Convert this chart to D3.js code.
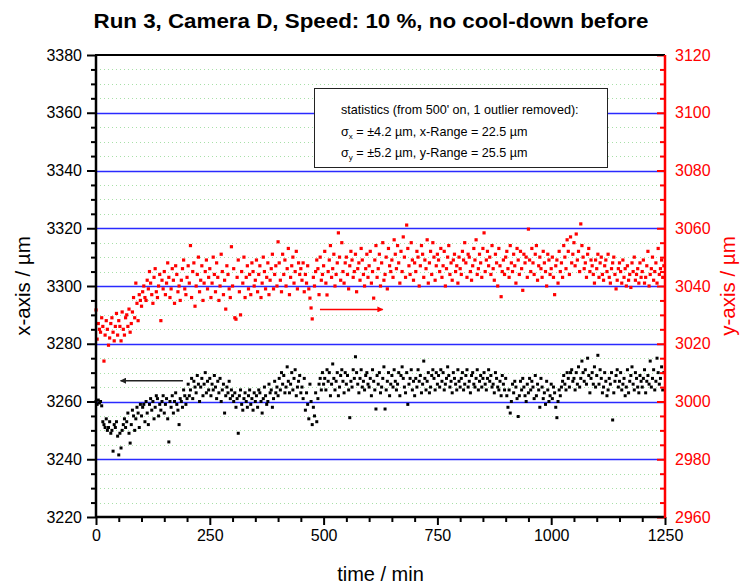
<!DOCTYPE html>
<html>
  <body style="margin:0;background:#fff">
    <style>
      text { font-family: "Liberation Sans", Arial, sans-serif; }
      .domain { display: none; }
    </style>
    <script src="https://cdn.jsdelivr.net/npm/d3@7"></script>
    <script type="text/javascript">

      // sample interval of the camera readout in minutes
      const sampleStep = 2.5;

      // x position (left axis, µm), one row = 50 min
      const xPos = [
        3260, 3259, 3260.5, 3259.5, 3260, 3258.5, 3253, 3252, 3251, 3254, 3250, 3251, 3253, 3249, 3250, 3242.8, 3252, 3251, 3253, 3248,
        3241.5, 3249, 3243.9, 3250, 3252, 3254, 3251, 3253, 3256, 3249, 3245.6, 3252, 3257, 3255, 3250, 3254, 3258, 3256, 3251, 3259,
        3255, 3258, 3259, 3253, 3260, 3256, 3252, 3259, 3261, 3257, 3260, 3254, 3258, 3262, 3261, 3255, 3259, 3257, 3260, 3262,
        3256, 3259, 3261, 3254, 3246, 3260, 3258, 3262, 3256, 3260, 3263, 3259, 3257, 3252, 3261, 3260, 3258, 3264, 3262, 3259,
        3261, 3266, 3262, 3264, 3268, 3261, 3267, 3265, 3263, 3269, 3266, 3260, 3265, 3268, 3262, 3266, 3270, 3263, 3267, 3264,
        3268, 3262, 3266, 3264, 3269, 3265, 3261, 3267, 3263, 3268, 3260, 3264, 3266, 3256, 3262, 3265, 3263, 3267, 3261, 3264,
        3262, 3260, 3263, 3258, 3261, 3249, 3262, 3264, 3259, 3257, 3261, 3263, 3260, 3258, 3262, 3264, 3259, 3261, 3257, 3263,
        3260, 3262, 3258, 3264, 3263, 3260, 3256, 3261, 3265, 3262, 3259, 3260, 3266, 3263, 3264, 3258, 3261, 3267, 3263, 3265,
        3262, 3268, 3264, 3270, 3266, 3269, 3263, 3265, 3272, 3267, 3263, 3266, 3270, 3264, 3268, 3271, 3262, 3265, 3267, 3269,
        3263, 3265, 3261, 3268, 3257, 3263, 3259, 3254, 3266, 3260, 3252, 3258, 3255, 3263, 3253, 3261, 3266, 3268, 3264, 3270,
        3266, 3268, 3264, 3271, 3267, 3270, 3262, 3266, 3273, 3268, 3264, 3267, 3270, 3262, 3265, 3269, 3271, 3267, 3263, 3270,
        3266, 3269, 3264, 3254.4, 3267, 3265, 3271, 3268, 3275.5, 3270, 3266, 3263, 3268, 3271, 3265, 3267, 3264, 3269, 3270, 3266,
        3265, 3268, 3262, 3271, 3267, 3264, 3257.4, 3269, 3266, 3270, 3263, 3265, 3268, 3272, 3257.4, 3264, 3267, 3270, 3262, 3266,
        3269, 3265, 3271, 3267, 3264, 3266, 3270, 3262, 3269, 3272, 3268, 3265, 3263, 3270, 3259, 3266, 3268, 3271, 3264, 3267,
        3262, 3268, 3265, 3271, 3267, 3269, 3263, 3266, 3274, 3268, 3264, 3267, 3270, 3263, 3265, 3269, 3271, 3268, 3264, 3270,
        3266, 3269, 3265, 3271, 3267, 3270, 3264, 3266, 3268, 3272, 3269, 3265, 3267, 3263, 3270, 3268, 3266, 3264, 3271, 3267,
        3265, 3268, 3270, 3264, 3266, 3269, 3271, 3265, 3267, 3263, 3269, 3270, 3266, 3265, 3268, 3271, 3264, 3267, 3269, 3265,
        3268, 3270, 3266, 3264, 3268, 3271, 3267, 3269, 3265, 3266, 3263, 3270, 3268, 3265, 3264, 3267, 3262, 3269, 3266, 3264,
        3268, 3262, 3258, 3264, 3256, 3260, 3266, 3263, 3267, 3265, 3261, 3254.8, 3262, 3267, 3264, 3268, 3265, 3262, 3260, 3266,
        3263, 3268, 3264, 3267, 3265, 3261, 3269, 3262, 3266, 3264, 3258, 3268, 3265, 3261, 3263, 3259, 3267, 3264, 3260, 3262,
        3266, 3261, 3265, 3263, 3258, 3254.4, 3260, 3264, 3262, 3265, 3267, 3269, 3266, 3264, 3270, 3268, 3265, 3270, 3271, 3267,
        3268, 3264, 3270, 3266, 3272, 3265, 3268, 3274, 3270, 3267, 3271, 3266, 3275, 3269, 3263, 3268, 3270, 3266, 3272, 3265,
        3269, 3276, 3266, 3271, 3268, 3263, 3265, 3270, 3267, 3262, 3264, 3268, 3266, 3270, 3253.6, 3263, 3267, 3269, 3271, 3265,
        3267, 3270, 3264, 3266, 3268, 3262, 3265, 3271, 3263, 3267, 3269, 3272, 3266, 3264, 3270, 3268, 3265, 3263, 3269, 3267,
        3265, 3268, 3271, 3263, 3267, 3269, 3266, 3274, 3265, 3268, 3271, 3264, 3267, 3275, 3270, 3266, 3268, 3272, 3264, 3270
      ];

      // y position (right axis, µm), one row = 50 min
      const yPos = [
        3031.7, 3021.6, 3027, 3025, 3024, 3029, 3026, 3014, 3023, 3028, 3025, 3019.5, 3022, 3027, 3029, 3024, 3021, 3026, 3030.5, 3023,
        3028, 3026, 3021, 3031, 3025, 3023, 3029, 3030, 3026, 3032, 3024, 3027, 3031, 3036, 3029, 3041, 3034, 3028, 3037, 3035,
        3033, 3038, 3040, 3036, 3035, 3042, 3039, 3045, 3041, 3037, 3034, 3043, 3046, 3038, 3036, 3040, 3044, 3028, 3042, 3039,
        3045, 3037, 3041, 3048, 3043, 3036, 3039, 3046, 3042, 3034, 3047, 3044, 3038, 3040, 3035, 3042, 3046, 3049, 3039, 3037,
        3043, 3047, 3041, 3054, 3036, 3045, 3048, 3033, 3040, 3044, 3050, 3038, 3042, 3047, 3035, 3041, 3045, 3049, 3039, 3043,
        3046, 3036, 3041, 3050, 3044, 3038, 3048, 3043, 3035, 3040, 3051, 3045, 3037, 3042, 3032, 3047, 3044, 3039, 3036, 3053.6,
        3040, 3046, 3029, 3028.5, 3043, 3049, 3038, 3030, 3045, 3041, 3050, 3036, 3043, 3047, 3039, 3044, 3037, 3048, 3045, 3040,
        3042, 3049, 3038, 3044, 3047, 3036, 3041, 3050, 3045, 3039, 3043, 3048, 3037, 3042, 3046, 3051, 3039, 3044, 3047, 3040,
        3055.3, 3048, 3042, 3038, 3051, 3044, 3049, 3040, 3046, 3053, 3037, 3043, 3047, 3050, 3041, 3045, 3052, 3039, 3048, 3044,
        3046, 3042, 3048, 3038, 3044, 3041, 3047, 3039, 3035.8, 3032.4, 3028.6, 3043, 3040, 3045, 3049, 3046, 3037, 3050, 3042, 3044,
        3047, 3052, 3041, 3036.9, 3045, 3049, 3054, 3043, 3046, 3051, 3040, 3044, 3048, 3058.4, 3050, 3042, 3055, 3045, 3041, 3048,
        3050, 3044, 3039, 3047, 3052, 3049, 3043, 3045, 3051, 3038, 3046, 3048, 3042, 3053, 3049, 3044, 3040, 3046, 3051, 3043,
        3047, 3052, 3041, 3045, 3035.8, 3049, 3054, 3043, 3046, 3051, 3040, 3048, 3055, 3042, 3044, 3050, 3039, 3053, 3047, 3045,
        3049, 3043, 3056, 3051, 3046, 3054, 3048, 3041, 3052, 3045, 3057, 3050, 3043, 3061.1, 3053, 3047, 3044, 3055, 3049, 3042,
        3048, 3045, 3052, 3050, 3040, 3047, 3054, 3051, 3043, 3049, 3046, 3056, 3041, 3048, 3052, 3044, 3055, 3050, 3042, 3047,
        3051, 3049, 3045, 3053, 3043, 3047, 3052, 3040, 3046, 3050, 3054, 3044, 3048, 3042, 3049, 3051, 3045, 3047, 3041, 3050,
        3046, 3044, 3052, 3049, 3055, 3048, 3043, 3051, 3050, 3045, 3042, 3047, 3053, 3049, 3056, 3044, 3046, 3051, 3048, 3043,
        3053, 3058.4, 3045, 3049, 3052, 3047, 3050, 3044, 3054, 3046, 3042, 3051, 3048, 3040, 3053, 3047, 3036.3, 3045, 3049, 3044,
        3050, 3052, 3046, 3043, 3054, 3048, 3045, 3051, 3047, 3041, 3053, 3049, 3044, 3052, 3046, 3038.5, 3051, 3048, 3050, 3043,
        3059.7, 3049, 3045, 3053, 3048, 3044, 3051, 3054, 3042, 3047, 3050, 3046, 3043, 3052, 3048, 3045, 3040, 3051, 3049, 3044,
        3046, 3050, 3043, 3037, 3047, 3049, 3041, 3052, 3045, 3048, 3043, 3054, 3050, 3046, 3056, 3052, 3044, 3057, 3048, 3051,
        3055, 3047, 3058, 3049, 3052, 3045, 3061.5, 3054, 3050, 3046, 3048, 3043, 3051, 3053, 3045, 3049, 3047, 3044, 3041, 3049,
        3046, 3051, 3043, 3048, 3050, 3044, 3042, 3047, 3049, 3045, 3051, 3043, 3041, 3046, 3048, 3050, 3044, 3039, 3042, 3046,
        3048, 3045, 3041, 3049, 3043, 3046, 3040, 3047, 3042, 3044, 3039.5, 3048, 3045, 3050, 3042, 3044, 3046, 3041, 3048, 3043,
        3045, 3049, 3041, 3043, 3047, 3052, 3040, 3044, 3046, 3050, 3042, 3045, 3048, 3041, 3053, 3044, 3046, 3049, 3043, 3047
      ];

      const timeTicks = [0, 250, 500, 750, 1000, 1250];
      const leftTicks = [3220, 3240, 3260, 3280, 3300, 3320, 3340, 3360, 3380];
      const rightTicks = [2960, 2980, 3000, 3020, 3040, 3060, 3080, 3100, 3120];

      const title = 'Run 3, Camera D, Speed: 10 %, no cool-down before';

      const width = 742;
      const height = 588;
      const plot = { left: 96, right: 665, top: 55, bottom: 517 };

      const svg = d3.select('body')
        .append('svg')
        .attr('width', width)
        .attr('height', height);

      const xScale = d3.scaleLinear().domain([0, 1250]).range([plot.left, plot.right]);
      const yLeft = d3.scaleLinear().domain([3220, 3380]).range([plot.bottom, plot.top]);
      const yRight = d3.scaleLinear().domain([2960, 3120]).range([plot.bottom, plot.top]);

      const minorLeft = d3.range(3220, 3381, 5).filter((v) => v % 20 !== 0);
      const minorRight = d3.range(2960, 3121, 5).filter((v) => v % 20 !== 0);
      const minorTime = d3.range(0, 1251, 50).filter((v) => v % 250 !== 0);

      // dotted green minor grid
      svg.append('g')
        .selectAll('line')
        .data(minorLeft)
        .enter()
        .append('line')
        .attr('x1', plot.left).attr('x2', plot.right)
        .attr('y1', (d) => Math.round(yLeft(d)) + 0.5)
        .attr('y2', (d) => Math.round(yLeft(d)) + 0.5)
        .attr('stroke', '#a8e0a8')
        .attr('stroke-dasharray', '1,3');

      // blue major grid
      svg.append('g')
        .selectAll('line')
        .data(leftTicks.slice(1, -1))
        .enter()
        .append('line')
        .attr('x1', plot.left).attr('x2', plot.right)
        .attr('y1', (d) => Math.round(yLeft(d)) + 0.5)
        .attr('y2', (d) => Math.round(yLeft(d)) + 0.5)
        .attr('stroke', '#2a2aff')
        .attr('stroke-width', 1.3);

      // statistics box
      const box = svg.append('g');
      box.append('rect')
        .attr('x', 314.5).attr('y', 88.5)
        .attr('width', 293).attr('height', 79)
        .attr('fill', '#fff')
        .attr('stroke', '#222');
      const t1 = box.append('text').attr('x', 341).attr('y', 114).attr('font-size', 12.6);
      t1.text("statistics (from 500' on, 1 outlier removed):");
      const t2 = box.append('text').attr('x', 341).attr('y', 136).attr('font-size', 12.6);
      t2.append('tspan').text('σ');
      t2.append('tspan').attr('font-size', 8).attr('dy', 3).text('x');
      t2.append('tspan').attr('dy', -3).text(' = ±4.2 µm, x-Range = 22.5 µm');
      const t3 = box.append('text').attr('x', 341).attr('y', 157).attr('font-size', 12.6);
      t3.append('tspan').text('σ');
      t3.append('tspan').attr('font-size', 8).attr('dy', 3).text('y');
      t3.append('tspan').attr('dy', -3).text(' = ±5.2 µm, y-Range = 25.5 µm');

      // data points
      svg.append('g')
        .selectAll('rect')
        .data(yPos)
        .enter()
        .append('rect')
        .attr('x', (d, i) => xScale(i * sampleStep) - 1.6)
        .attr('y', (d) => yRight(d) - 1.6)
        .attr('width', 3.2).attr('height', 3.2)
        .attr('fill', '#ff0000');

      svg.append('g')
        .selectAll('rect')
        .data(xPos)
        .enter()
        .append('rect')
        .attr('x', (d, i) => xScale(i * sampleStep) - 1.5)
        .attr('y', (d) => yLeft(d) - 1.5)
        .attr('width', 3).attr('height', 3)
        .attr('fill', '#000');

      // arrows telling which axis belongs to which series
      const defs = svg.append('defs');
      [['headBlack', '#222'], ['headRed', '#ff0000']].forEach(([id, c]) => {
        defs.append('marker')
          .attr('id', id)
          .attr('viewBox', '0 0 10 10')
          .attr('refX', 9).attr('refY', 5)
          .attr('markerWidth', 8).attr('markerHeight', 6)
          .attr('markerUnits', 'userSpaceOnUse')
          .attr('orient', 'auto')
          .append('path')
          .attr('d', 'M0,0L10,5L0,10z')
          .attr('fill', c);
      });

      svg.append('line')
        .attr('x1', xScale(191)).attr('x2', xScale(54))
        .attr('y1', yLeft(3267.2)).attr('y2', yLeft(3267.2))
        .attr('stroke', '#222').attr('stroke-width', 1.5)
        .attr('marker-end', 'url(#headBlack)');

      svg.append('line')
        .attr('x1', xScale(492)).attr('x2', xScale(630))
        .attr('y1', yRight(3031.9)).attr('y2', yRight(3031.9))
        .attr('stroke', '#ff0000').attr('stroke-width', 1.5)
        .attr('marker-end', 'url(#headRed)');

      // axes
      const styleAxis = (g, color, size) => {
        g.selectAll('text').attr('fill', color).attr('font-size', size);
        g.selectAll('line').attr('stroke', color).attr('stroke-width', 2);
      };

      svg.append('g')
        .attr('transform', `translate(${plot.left},0)`)
        .call(d3.axisLeft(yLeft).tickValues(minorLeft).tickSize(5).tickFormat(''))
        .call((g) => styleAxis(g, '#000', 16));
      svg.append('g')
        .attr('transform', `translate(${plot.left},0)`)
        .call(d3.axisLeft(yLeft).tickValues(leftTicks).tickSize(9).tickPadding(5).tickFormat(d3.format('d')))
        .call((g) => styleAxis(g, '#000', 16));

      svg.append('g')
        .attr('transform', `translate(${plot.right},0)`)
        .call(d3.axisRight(yRight).tickValues(minorRight).tickSize(-5).tickFormat(''))
        .call((g) => styleAxis(g, '#ff0000', 16));
      svg.append('g')
        .attr('transform', `translate(${plot.right},0)`)
        .call(d3.axisRight(yRight).tickValues(rightTicks).tickSize(-8).tickPadding(10).tickFormat(d3.format('d')))
        .call((g) => styleAxis(g, '#ff0000', 16));

      svg.append('g')
        .attr('transform', `translate(0,${plot.bottom})`)
        .call(d3.axisBottom(xScale).tickValues(minorTime).tickSize(5).tickFormat(''))
        .call((g) => styleAxis(g, '#000', 16));
      svg.append('g')
        .attr('transform', `translate(0,${plot.bottom})`)
        .call(d3.axisBottom(xScale).tickValues(timeTicks).tickSize(8).tickPadding(5).tickFormat(d3.format('d')))
        .call((g) => styleAxis(g, '#000', 16));

      // frame
      svg.append('line').attr('x1', plot.left - 1).attr('x2', plot.right).attr('y1', plot.top).attr('y2', plot.top)
        .attr('stroke', '#000').attr('stroke-width', 2);
      svg.append('line').attr('x1', plot.left).attr('x2', plot.right + 1).attr('y1', plot.bottom).attr('y2', plot.bottom)
        .attr('stroke', '#000').attr('stroke-width', 2.5);
      svg.append('line').attr('x1', plot.left).attr('x2', plot.left).attr('y1', plot.top).attr('y2', plot.bottom + 1)
        .attr('stroke', '#000').attr('stroke-width', 2.5);
      svg.append('line').attr('x1', plot.right).attr('x2', plot.right).attr('y1', plot.top).attr('y2', plot.bottom + 1)
        .attr('stroke', '#ff0000').attr('stroke-width', 2.5);

      // titles
      svg.append('text')
        .attr('x', 371).attr('y', 28)
        .attr('text-anchor', 'middle')
        .attr('font-size', 21).attr('font-weight', 'bold')
        .attr('textLength', 555).attr('lengthAdjust', 'spacingAndGlyphs')
        .text(title);

      svg.append('text')
        .attr('x', (plot.left + plot.right) / 2).attr('y', 581)
        .attr('text-anchor', 'middle')
        .attr('font-size', 20)
        .text('time / min');

      svg.append('text')
        .attr('transform', `translate(30,${(plot.top + plot.bottom) / 2}) rotate(-90)`)
        .attr('text-anchor', 'middle')
        .attr('font-size', 20.5)
        .text('x-axis / µm');

      svg.append('text')
        .attr('transform', `translate(735,${(plot.top + plot.bottom) / 2}) rotate(-90)`)
        .attr('text-anchor', 'middle')
        .attr('font-size', 20.5)
        .attr('fill', '#ff0000')
        .text('y-axis / µm');

    </script>
  </body>
</html>
